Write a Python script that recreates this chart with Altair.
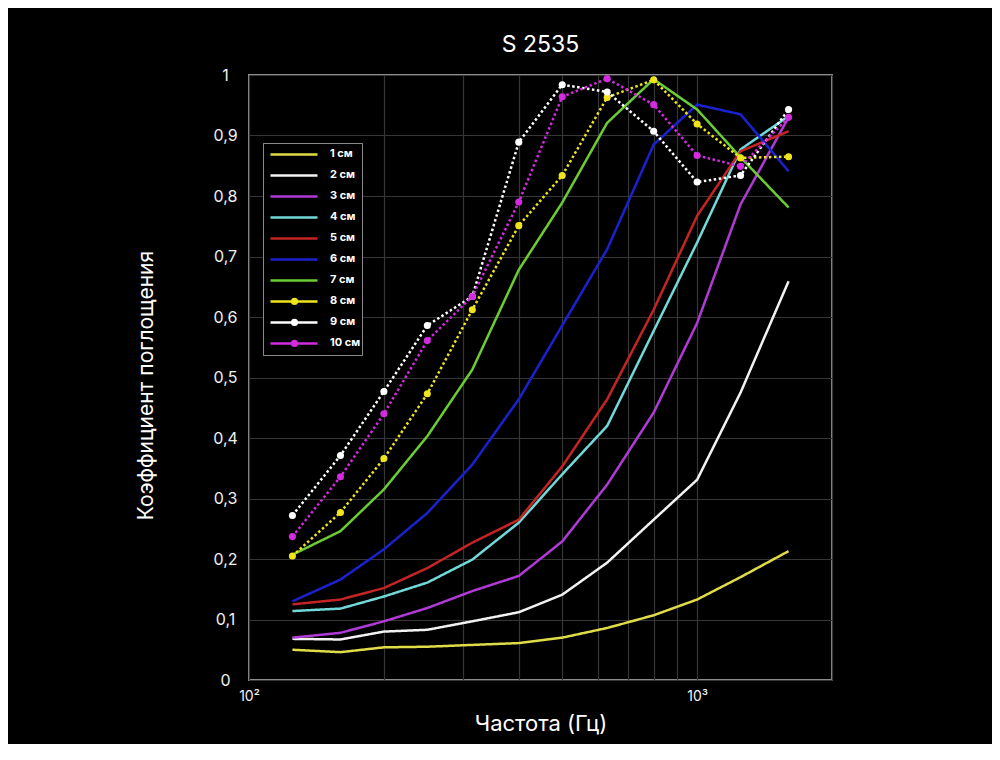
import altair as alt
import pandas as pd

freqs = [125, 160, 200, 250, 315, 400, 500, 630, 800, 1000, 1250, 1600]
names = ["1 см", "2 см", "3 см", "4 см", "5 см", "6 см", "7 см", "8 см", "9 см", "10 см"]
colors = ["#e0dc48", "#f2f2f2", "#b03ad6", "#72d8d8", "#c42424", "#1a22d0",
          "#6ccc34", "#f0e41c", "#ffffff", "#d42ae0"]
dotted = ["8 см", "9 см", "10 см"]

s1 = [0.050, 0.046, 0.054, 0.055, 0.058, 0.061, 0.070, 0.086, 0.107, 0.133, 0.170, 0.213]
s2 = [0.068, 0.067, 0.080, 0.083, 0.097, 0.112, 0.141, 0.194, 0.265, 0.331, 0.475, 0.659]
s3 = [0.070, 0.078, 0.097, 0.119, 0.147, 0.172, 0.229, 0.323, 0.442, 0.590, 0.786, 0.930]
s4 = [0.114, 0.118, 0.138, 0.161, 0.199, 0.260, 0.340, 0.420, 0.577, 0.723, 0.877, 0.932]
s5 = [0.125, 0.133, 0.152, 0.185, 0.227, 0.265, 0.353, 0.464, 0.612, 0.767, 0.874, 0.907]
s6 = [0.130, 0.166, 0.216, 0.276, 0.356, 0.464, 0.586, 0.712, 0.885, 0.951, 0.935, 0.841]
s7 = [0.207, 0.246, 0.315, 0.403, 0.513, 0.678, 0.789, 0.921, 0.993, 0.943, 0.864, 0.781]
s8 = [0.205, 0.277, 0.366, 0.473, 0.612, 0.751, 0.834, 0.963, 0.992, 0.919, 0.863, 0.865]
s9 = [0.272, 0.371, 0.477, 0.586, 0.634, 0.889, 0.984, 0.972, 0.907, 0.823, 0.834, 0.943]
s10 = [0.237, 0.336, 0.440, 0.561, 0.634, 0.790, 0.964, 0.994, 0.951, 0.867, 0.849, 0.930]

x_ticks = [100, 200, 300, 400, 500, 600, 700, 800, 900, 1000, 2000]
y_ticks = [0, 0.1, 0.2, 0.3, 0.4, 0.5, 0.6, 0.7, 0.8, 0.9, 1.0]

series = [s1, s2, s3, s4, s5, s6, s7, s8, s9, s10]
rows = []
for name, vals in zip(names, series):
    for f, v in zip(freqs, vals):
        rows.append({"freq": f, "val": v, "series": name, "marker": name + "\u200b"})
df = pd.DataFrame(rows)
df_pts = df[df["series"].isin(dotted)]

FONT = "Inter"
dashes = [[1, 0] if n not in dotted else [2.5, 2.5] for n in names]
marker_names = [n + "\u200b" for n in names]
marker_colors = [c if n in dotted else "transparent" for n, c in zip(names, colors)]

LX, LY = 14, 68
common = dict(title=None, orient="none", legendX=LX, legendY=LY, padding=1,
              clipHeight=20.8, rowPadding=0, labelFontSize=11, labelFontWeight="bold",
              labelFont=FONT)

legend = alt.Legend(
    strokeColor="#8a8a8a", fillColor="black",
    symbolType="stroke", symbolSize=2209, symbolStrokeWidth=2.5,
    symbolOffset=5, labelOffset=11, labelColor="white", **common,
)
legend_pts = alt.Legend(
    symbolType="circle", symbolSize=50, symbolStrokeWidth=0,
    symbolOffset=25, labelOffset=40, labelColor="transparent", labelExpr="''", **common,
)

x_enc = alt.X("freq:Q", scale=alt.Scale(type="log", domain=[100, 2000], nice=False),
              axis=alt.Axis(values=x_ticks,
                            labelExpr="datum.value == 100 ? '10²' : (datum.value == 1000 ? '10³' : '')",
                            title="Частота (Гц)", grid=True, ticks=False, domain=False,
                            labelPadding=9, labelFontSize=14, labelOverlap=False, labelFlush=False,
                            titleFontSize=22, titleY=43, titleBaseline="middle",
                            titleFontWeight="normal"))
y_enc = alt.Y("val:Q", scale=alt.Scale(domain=[0, 1], nice=False),
              axis=alt.Axis(values=y_ticks,
                            labelExpr="replace(format(datum.value, '.1~f'), '.', ',')",
                            title="Коэффициент поглощения", grid=True, ticks=False, domain=False,
                            labelAlign="center", labelBaseline="middle", labelPadding=24,
                            labelFontSize=16, labelFlush=False, labelOverlap=False,
                            titleFontSize=21, titleX=-103, titleY=310,
                            titleAlign="center", titleBaseline="middle",
                            titleFontWeight="normal"))

lines = alt.Chart(df).mark_line(strokeWidth=2.5).encode(
    x=x_enc, y=y_enc,
    color=alt.Color("series:N", scale=alt.Scale(domain=names, range=colors),
                    legend=legend, sort=names),
    strokeDash=alt.StrokeDash("series:N", scale=alt.Scale(domain=names, range=dashes),
                              legend=legend, sort=names),
)

points = alt.Chart(df_pts).mark_point(filled=True, size=50, opacity=1, strokeWidth=0).encode(
    x=x_enc, y=y_enc,
    fill=alt.Fill("marker:N", scale=alt.Scale(domain=marker_names, range=marker_colors),
                  legend=legend_pts, sort=marker_names),
)

chart = alt.layer(lines, points).resolve_scale(
    color="independent", fill="independent"
).resolve_legend(color="independent", fill="independent").properties(
    width=583, height=605,
    title=alt.Title("S 2535", fontSize=23, color="white", font=FONT,
                    fontWeight="normal", anchor="middle", baseline="alphabetic",
                    offset=11, dy=19),
    autosize=alt.AutoSizeParams(type="none"),
    padding={"left": 241, "top": 67, "right": 160, "bottom": 64},
    background="black",
).configure_view(
    stroke="#8c8c8c", strokeWidth=2
).configure_axis(
    labelColor="#f0f0f0", titleColor="white", gridColor="#363636", gridWidth=1.2,
    labelFont=FONT, titleFont=FONT,
)

chart.save("out.html", embed_options={"renderer": "svg", "actions": False})
